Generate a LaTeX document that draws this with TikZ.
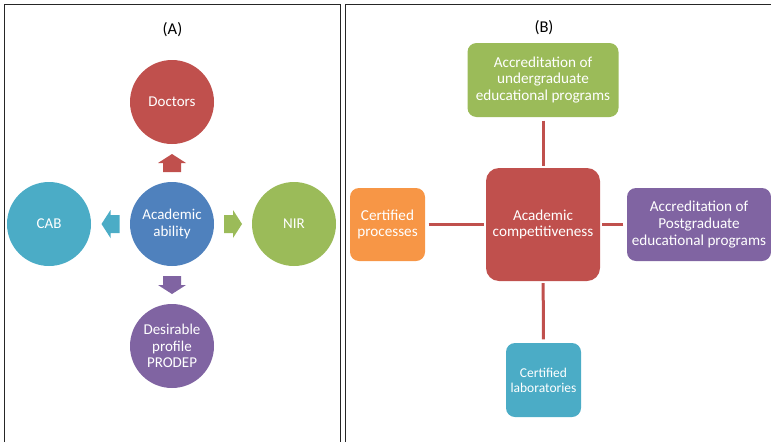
\documentclass[tikz,border=0pt]{standalone}
\usepackage{fontspec}
\setmainfont{Carlito}
\usepackage{tikz}
\usetikzlibrary{calc}

\definecolor{offred}{HTML}{C0504D}
\definecolor{offblue}{HTML}{4F81BD}
\definecolor{offgreen}{HTML}{9BBB59}
\definecolor{offpurple}{HTML}{8064A2}
\definecolor{offcyan}{HTML}{4BACC6}
\definecolor{offorange}{HTML}{F79646}

\begin{document}
\begin{tikzpicture}[x=1pt, y=-1pt]
	\tikzstyle{ball}=[circle, minimum size=84pt, inner sep=1pt, text=white, align=center, font=\fontsize{15}{16.2}\selectfont]
	\tikzstyle{tile}=[rounded corners=9pt, text=white, align=center, inner sep=1pt, font=\fontsize{15.2}{16.7}\selectfont]
	\tikzstyle{frame}=[draw=black!85, line width=1.3pt]
	\tikzstyle{link}=[draw=offred, line width=3pt, shorten <=3.5pt, shorten >=2pt]
	\tikzset{blockarrow/.pic={\fill (-9,-9) -- (0,-9) -- (0,-14) -- (9,0) -- (0,14) -- (0,9) -- (-9,9) -- cycle;}}
	\useasboundingbox (0,0) rectangle (771,442);
	% panel frames
	\draw[frame] (4.7,442) -- (4.7,4.5) -- (340.5,4.5) -- (340.5,442);
	\draw[frame] (345.5,442) -- (345.5,4.5) -- (771,4.5);
	% (A)
	\node[font=\fontsize{16.5}{18}\selectfont] (titleA) at (172.5,30) {(A)};
	\node[ball, fill=offblue] (ability) at (172,224) {Academic\\ability};
	\node[ball, fill=offred] (doctors) at (172,102) {Doctors};
	\node[ball, fill=offcyan] (cab) at (49,224) {CAB};
	\node[ball, fill=offgreen] (nir) at (294,224) {NIR};
	\node[ball, fill=offpurple] (prodep) at (172,346) {Desirable\\profile\\PRODEP};
	\pic[offred, rotate=90] at ($(ability)!0.5!(doctors)$) {blockarrow};
	\pic[offcyan, rotate=180] at ($(ability)!0.5!(cab)$) {blockarrow};
	\pic[offgreen] at ($(ability)!0.5!(nir)$) {blockarrow};
	\pic[offpurple, rotate=270] at ($(ability)!0.5!(prodep)$) {blockarrow};
	% (B)
	\node[font=\fontsize{16.5}{18}\selectfont] (titleB) at (544,28) {(B)};
	\node[tile, fill=offred, rounded corners=13pt, minimum width=114pt, minimum height=113pt] (compet) at (543,224.5) {Academic\\competitiveness};
	\node[tile, fill=offgreen, minimum width=151pt, minimum height=74pt] (undergrad) at (543,80) {Accreditation of\\undergraduate\\educational programs};
	\node[tile, fill=offorange, minimum width=75pt, minimum height=73pt] (processes) at (387.5,224.5) {Certified\\processes};
	\node[tile, fill=offpurple, minimum width=144pt, minimum height=73pt] (postgrad) at (699,224.5) {Accreditation of\\Postgraduate\\educational programs};
	\node[tile, fill=offcyan, minimum width=75pt, minimum height=74pt, font=\fontsize{13.5}{15}\selectfont] (labs) at (543.5,380) {Certified\\laboratories};
	\draw[link] (undergrad) -- (compet);
	\draw[link] (processes) -- (compet);
	\draw[link] (postgrad) -- (compet);
	\draw[link] (labs) -- (compet);
\end{tikzpicture}
\end{document}
